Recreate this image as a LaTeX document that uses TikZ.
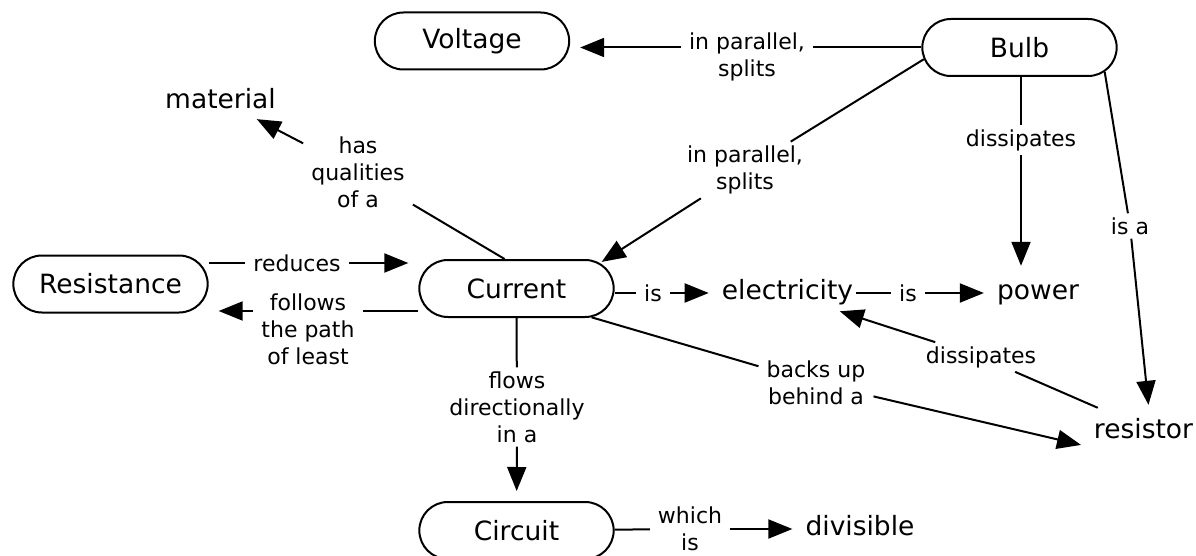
\documentclass[tikz,border=0pt]{standalone}
\usepackage{fontspec}
\setmainfont{DejaVu Sans}
\usepackage{tikz}
\usetikzlibrary{arrows.meta, positioning, shapes.misc}

\newcommand{\conceptfont}{\fontsize{26.5}{30}\selectfont}
\newcommand{\linkfont}{\fontsize{22}{27}\selectfont}

\begin{document}
\begin{tikzpicture}[x=1pt, y=-1pt]

	\tikzstyle{concept} = [rounded rectangle, draw, line width=2pt, minimum width=201pt, minimum height=57pt, font=\conceptfont]
	\tikzstyle{word} = [anchor=base, inner sep=3pt, text height=20pt, text depth=6pt, font=\conceptfont]
	\tikzstyle{link} = [align=center, inner xsep=8pt, inner ysep=4pt, font=\linkfont]
	\tikzstyle{edgeline} = [line width=2pt]
	\tikzstyle{arrow} = [line width=2pt, -{Triangle[length=24pt,width=19pt]}, shorten >=10pt]

	\useasboundingbox (0,0) rectangle (1196,556);

	% concepts
	\node[concept] (voltage) at (472,41) {Voltage};
	\node[concept] (bulb) at (1019.5,47.5) {Bulb};
	\node[concept] (resistance) at (110.5,284) {Resistance};
	\node[concept] (current) at (516.5,288.5) {Current};
	\node[concept, below=183pt of current] (circuit) {Circuit};
	\node[word] (material) at (220.5,109) {material};
	\node[word] (electricity) at (787.5,299) {electricity};
	\node[word] (power) at (1038,299) {power};
	\node[word] (resistor) at (1143.5,438) {resistor};
	\node[word] (divisible) at (860,535) {divisible};

	% linking phrases
	\node[link] (splitsV) at (747,57) {in parallel,\\splits};
	\node[link] (splitsC) at (745,170) {in parallel,\\splits};
	\node[link] (dissB) at (1021,140) {dissipates};
	\node[link] (isA) at (1130,226) {is a};
	\node[link] (hasQ) at (358,172) {has\\qualities\\of a};
	\node[link] (reduces) at (297,263) {reduces};
	\node[link] (follows) at (308,329) {follows\\the path\\of least};
	\node[link] (isE) at (653,293) {is};
	\node[link] (isP) at (908,293) {is};
	\node[link] (backs) at (816,383) {backs up\\behind a};
	\node[link] (dissR) at (981,357) {dissipates};
	\node[link] (flows) at (517,407) {flows\\directionally\\in a};
	\node[link] (whichIs) at (690,529) {which\\is};
	\coordinate (fline) at ([yshift=18pt]follows.center);

	\draw[edgeline] (bulb.west) -- (bulb.west -| splitsV.east);
	\draw[arrow] (bulb.west -| splitsV.west) -- (bulb.west -| voltage.east);
	\draw[edgeline] (bulb.187) -- (splitsC);
	\draw[arrow, shorten >=2pt] (splitsC) -- (current.17);
	\draw[edgeline] (bulb.south -| dissB) -- (dissB);
	\draw[arrow] (dissB) -- (dissB |- power.north);
	\draw[edgeline] (bulb.-16) -- (isA);
	\draw[arrow] (isA) -- ([xshift=6pt]resistor.north);
	\draw[edgeline] (current.112) -- (hasQ);
	\draw[arrow, shorten >=2pt] (hasQ) -- ([xshift=-24pt]material.south east);
	\draw[edgeline] (resistance.east |- reduces) -- (reduces);
	\draw[arrow] (reduces) -- (reduces -| current.west);
	\draw[edgeline] (current.west |- fline) -- (follows.east |- fline);
	\draw[arrow] (follows.west |- fline) -- (resistance.east |- fline);
	\draw[edgeline] (current.east |- isE) -- (isE);
	\draw[arrow] (isE) -- (isE -| electricity.west);
	\draw[edgeline] (electricity.east |- isP) -- (isP);
	\draw[arrow] (isP) -- (isP -| power.west);
	\draw[edgeline] (current.-21) -- (backs);
	\draw[arrow] (backs) -- (resistor.south west);
	\draw[edgeline] ([shift={(7,-7)}]resistor.north west) -- (dissR);
	\draw[arrow] (dissR) -- ([xshift=-26pt]electricity.south east);
	\draw[edgeline] (current.south) -- (flows);
	\draw[arrow] (flows) -- (circuit);
	\draw[edgeline] (circuit) -- (whichIs);
	\draw[arrow] (whichIs) -- (whichIs -| divisible.west);

\end{tikzpicture}
\end{document}
